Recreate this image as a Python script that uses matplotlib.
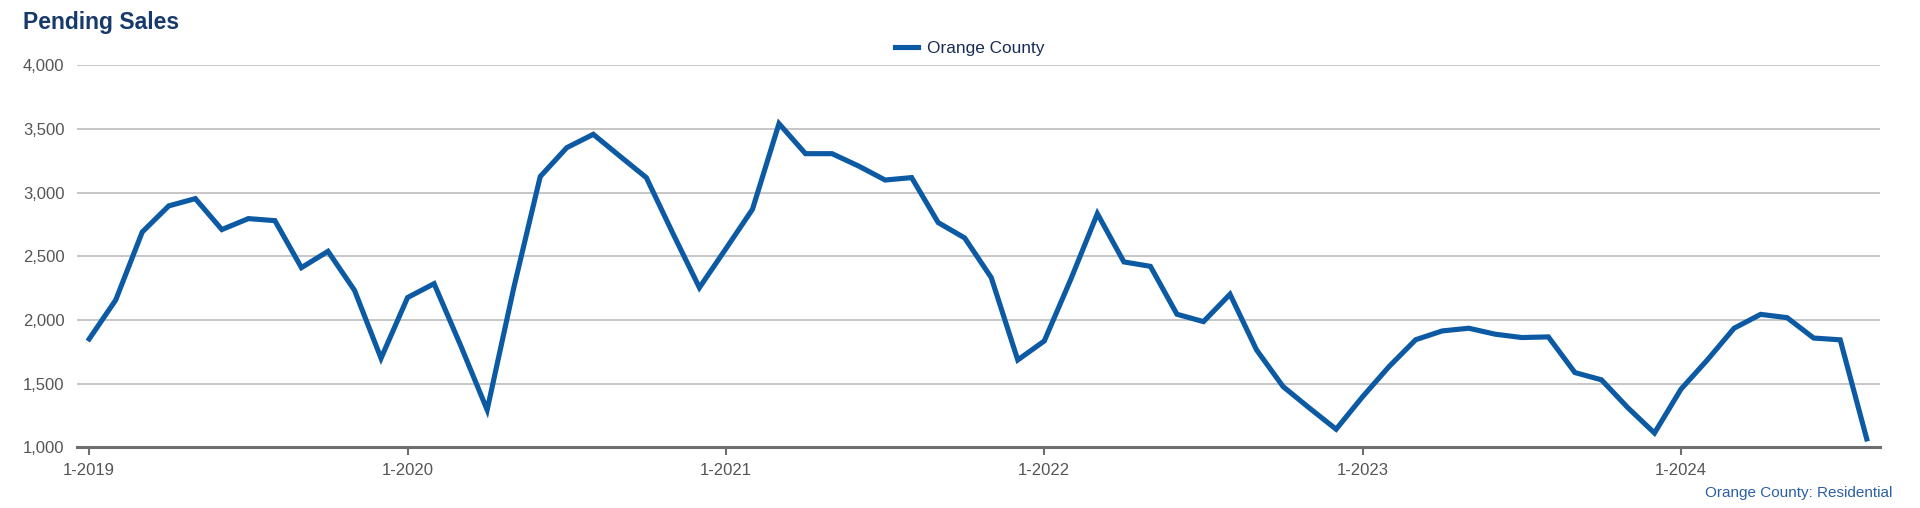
import numpy as np
import matplotlib.pyplot as plt

plt.rcParams['font.family'] = ['Liberation Sans', 'DejaVu Sans']

# monthly pending sales, 1-2019 .. 8-2024
months = ['%d-%d' % (m, y) for y in range(2019, 2025) for m in range(1, 13)][:68]
sales_2019 = [1851, 2157, 2691, 2896, 2953, 2710, 2796, 2780, 2411, 2539, 2233, 1699]
sales_2020 = [2176, 2285, 1800, 1294, 2250, 3126, 3353, 3458, 3287, 3118, 2680, 2254]
sales_2021 = [2560, 2869, 3542, 3306, 3306, 3209, 3099, 3118, 2765, 2644, 2333, 1686]
sales_2022 = [1835, 2320, 2835, 2456, 2421, 2045, 1987, 2202, 1765, 1477, 1307, 1142]
sales_2023 = [1398, 1635, 1845, 1914, 1935, 1888, 1862, 1867, 1587, 1530, 1310, 1112]
sales_2024 = [1457, 1688, 1935, 2044, 2018, 1858, 1844, 1066]
sales = sales_2019 + sales_2020 + sales_2021 + sales_2022 + sales_2023 + sales_2024

yticks = [1000, 1500, 2000, 2500, 3000, 3500, 4000]
xtick_labels = ['1-2019', '1-2020', '1-2021', '1-2022', '1-2023', '1-2024']

blue = '#0b5aa3'

fig = plt.figure(figsize=(19.2, 5.08), dpi=100)
ax = fig.add_axes([77/1920, 1-447.3/508, (1880-77)/1920, (447.3-65.3)/508])

x = np.arange(len(sales))
ax.plot(x, sales, color=blue, linewidth=3.7, solid_joinstyle='miter', label='Orange County', zorder=3)

ax.set_xlim(-0.46, len(sales) - 1 + 0.5)
ax.set_ylim(1000, 4000)
ax.set_yticks(yticks)
ax.set_yticklabels(['{:,}'.format(v) for v in yticks])
ax.set_xticks([months.index(l) for l in xtick_labels])
ax.set_xticklabels(xtick_labels)

ax.grid(axis='y', color='#c6c6c6', linewidth=1.4)
ax.set_axisbelow(True)
for s in ['top', 'right', 'left']:
    ax.spines[s].set_visible(False)
ax.spines['bottom'].set_color('#6e6e6e')
ax.spines['bottom'].set_linewidth(2.2)
ax.tick_params(axis='y', length=0, pad=9, labelsize=12, labelcolor='#555555')
ax.tick_params(axis='x', length=6, width=1.5, color='#6e6e6e', pad=5, labelsize=12, labelcolor='#555555')

fig.text(23/1920, 1-29/508, 'Pending Sales', fontsize=16.5, fontweight='bold', color='#173a6b')
ax.legend(loc='center', bbox_to_anchor=(0.495, 1.044), frameon=False, fontsize=12.4,
          handlelength=1.36, handletextpad=0.5, labelcolor='#1a2c55')
fig.text(1892/1920, 1-497/508, 'Orange County: Residential', fontsize=11, color='#2b5fa6', ha='right')

plt.savefig('out.png', dpi=100)
